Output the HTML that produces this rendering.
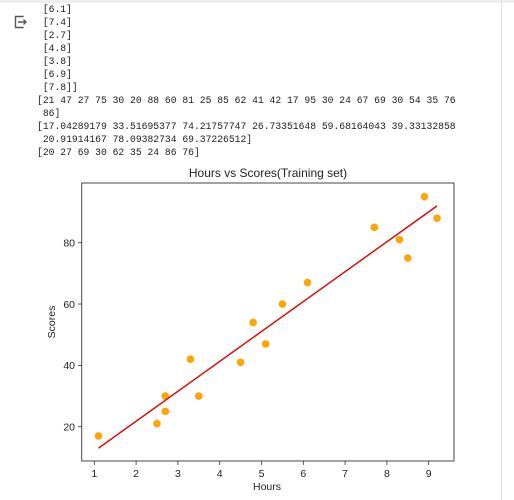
<!DOCTYPE html>
<html><head><meta charset="utf-8"><style>
body{margin:0;width:514px;height:500px;background:#fff;overflow:hidden;position:relative;font-family:"Liberation Sans",sans-serif}
#out{position:absolute;left:37px;top:3px;font-family:"Liberation Mono",monospace;font-size:9.7px;line-height:13px;color:#212121;white-space:pre;margin:0}
#chart{position:absolute;left:0;top:0}
</style></head><body>
<div style="position:absolute;left:0;top:0;width:514px;height:3px;background:#eee"></div>
<div style="position:absolute;left:501px;top:0;width:1px;height:500px;background:#e0e0e0"></div>
<svg style="position:absolute;left:13px;top:15px" width="16" height="14" viewBox="0 0 16 14"><path d="M10 2V1.5H2.5v11H10V12" fill="none" stroke="#555" stroke-width="1.4"/><path d="M5 7h8M10.5 4.5 13 7l-2.5 2.5" fill="none" stroke="#555" stroke-width="1.4"/></svg>
<pre id="out"> [6.1]
 [7.4]
 [2.7]
 [4.8]
 [3.8]
 [6.9]
 [7.8]]
[21 47 27 75 30 20 88 60 81 25 85 62 41 42 17 95 30 24 67 69 30 54 35 76
 86]
[17.04289179 33.51695377 74.21757747 26.73351648 59.68164043 39.33132858
 20.91914167 78.09382734 69.37226512]
[20 27 69 30 62 35 24 86 76]</pre>
<svg id="chart" width="514" height="500"></svg>
<script>
const hours=[1.1,2.5,2.7,2.7,3.3,3.5,4.5,4.8,5.1,5.5,6.1,7.7,8.3,8.5,8.9,9.2];
const scores=[17,21,25,30,42,30,41,54,47,60,67,85,81,75,95,88];
const lineX=[1.1,9.2];
const lineY=[13.0,92.0];
const xTicks=[1,2,3,4,5,6,7,8,9];
const yTicks=[20,40,60,80];
const NS="http://www.w3.org/2000/svg";
const svg=document.getElementById('chart');
const X=v=>94.3+(v-1)*41.8;
const Y=v=>426.7-(v-20)*3.067;
function mk(t,a){const e=document.createElementNS(NS,t);for(const k in a)e.setAttribute(k,a[k]);svg.appendChild(e);return e;}
const frame=mk('rect',{x:81.7,y:183,width:372.3,height:278,fill:'none',stroke:'#333','stroke-width':0.9});


xTicks.forEach(t=>{
  const l=mk('line',{x1:X(t),x2:X(t),y1:461,y2:465,stroke:'#333','stroke-width':0.8});
  
  
  const s=mk('text',{x:X(t),y:477,'text-anchor':'middle','font-size':10.5,fill:'#222'});
  s.textContent=t;
  
  
});
yTicks.forEach(t=>{
  const l=mk('line',{x1:78,x2:81.7,y1:Y(t),y2:Y(t),stroke:'#333','stroke-width':0.8});
  
  
  const s=mk('text',{x:75,y:Y(t)+3.8,'text-anchor':'end','font-size':10.5,fill:'#222'});
  s.textContent=t;
  
  
});
hours.forEach((h,i)=>{
  const c=mk('circle',{cx:X(h),cy:Y(scores[i]),r:3.8,fill:'#ffa500'});
  
  
});
const ln=mk('line',{x1:X(lineX[0]),y1:Y(lineY[0]),x2:X(lineX[1]),y2:Y(lineY[1]),stroke:'#e00000','stroke-width':1.4});


const tt=mk('text',{x:268,y:177,'text-anchor':'middle','font-size':12,fill:'#222'});
tt.textContent='Hours vs Scores(Training set)';


const xt=mk('text',{x:267,y:490,'text-anchor':'middle','font-size':10.5,fill:'#222'});
xt.textContent='Hours';


const yt=mk('text',{x:0,y:0,'text-anchor':'middle','font-size':10.5,fill:'#222',transform:'translate(55,322) rotate(-90)'});
yt.textContent='Scores';


</script>
</body></html>
